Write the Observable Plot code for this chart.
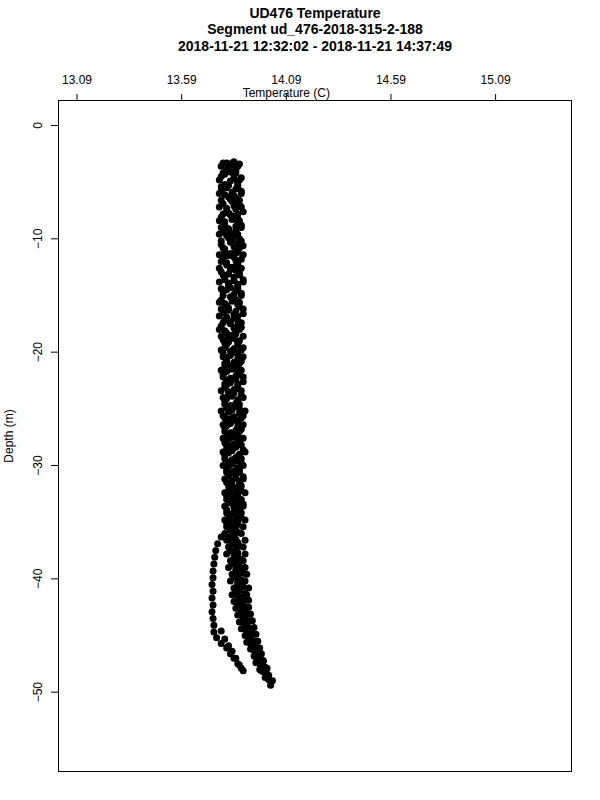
<!DOCTYPE html>
<html><head><meta charset="utf-8">
<script src="https://cdn.jsdelivr.net/npm/d3@7"></script>
<script src="https://cdn.jsdelivr.net/npm/@observablehq/plot@0.6"></script>
<style>
body{margin:0;background:#fff;}
#chart svg{display:block;}
</style></head>
<body><div id="chart"></div>
<script>
const titleLines = ["UD476 Temperature", "Segment ud_476-2018-315-2-188", "2018-11-21 12:32:02 - 2018-11-21 14:37:49"];
const xTicks = [13.09, 13.59, 14.09, 14.59, 15.09];
const yTicks = [0, -10, -20, -30, -40, -50];
const xLabel = "Temperature (C)";
const xLabelAt = 14.09;
const yLabel = "Depth (m)";

// [depth (m), temperature (C)] per cast
const castA = [[-3.3,13.788],[-3.9,13.805],[-4.5,13.779],[-5.2,13.796],[-5.8,13.779],[-6.3,13.814],[-6.9,13.788],[-7.6,13.805],[-8.1,13.779],[-8.8,13.796],[-9.4,13.788],[-9.9,13.814],[-10.5,13.779],[-11.2,13.796],[-11.7,13.788],[-12.3,13.805],[-12.9,13.779],[-13.6,13.796],[-14.1,13.814],[-14.7,13.788],[-15.4,13.779],[-15.9,13.805],[-16.5,13.788],[-17.2,13.796],[-17.7,13.779],[-18.3,13.805],[-18.9,13.788],[-19.6,13.796],[-20.1,13.788],[-20.7,13.805],[-21.3,13.796],[-22.0,13.788],[-22.5,13.805],[-23.1,13.796],[-23.8,13.814],[-24.3,13.796],[-24.9,13.805],[-25.6,13.788],[-26.1,13.805],[-26.7,13.796],[-27.3,13.814],[-28.0,13.796],[-28.5,13.805],[-29.1,13.796],[-29.7,13.814],[-30.4,13.805],[-30.9,13.814],[-31.5,13.805],[-32.2,13.814],[-32.7,13.805],[-33.3,13.823],[-33.9,13.805],[-34.6,13.814],[-35.1,13.805],[-35.7,13.823],[-36.3,13.814],[-36.9,13.831],[-37.5,13.823],[-38.2,13.840],[-38.7,13.831],[-39.3,13.849],[-39.9,13.840],[-40.5,13.858],[-41.1,13.849],[-41.8,13.866],[-42.3,13.858],[-42.9,13.875],[-43.5,13.884],[-44.1,13.893],[-44.7,13.901],[-45.4,13.919],[-45.9,13.928],[-46.5,13.945],[-47.1,13.954],[-47.7,13.971],[-48.2,13.980]];
const castB = [[-49.4,14.015],[-48.9,14.006],[-48.4,13.998],[-47.8,13.989],[-47.2,13.980],[-46.6,13.971],[-46.1,13.963],[-45.5,13.954],[-44.9,13.945],[-44.3,13.936],[-43.7,13.928],[-43.1,13.919],[-42.5,13.910],[-41.9,13.910],[-41.4,13.901],[-40.8,13.910],[-40.2,13.893],[-39.6,13.901],[-39.0,13.893],[-38.4,13.884],[-37.8,13.893],[-37.2,13.884],[-36.6,13.893],[-36.0,13.875],[-35.4,13.884],[-34.8,13.893],[-34.2,13.875],[-33.6,13.884],[-33.0,13.875],[-32.4,13.893],[-31.8,13.875],[-31.2,13.884],[-30.6,13.866],[-30.0,13.884],[-29.4,13.875],[-28.8,13.893],[-28.2,13.875],[-27.6,13.884],[-27.0,13.866],[-26.4,13.884],[-25.8,13.875],[-25.2,13.893],[-24.6,13.866],[-24.0,13.884],[-23.4,13.875],[-22.8,13.858],[-22.2,13.884],[-21.6,13.875],[-21.0,13.866],[-20.4,13.884],[-19.8,13.875],[-19.2,13.858],[-18.6,13.884],[-18.0,13.866],[-17.4,13.875],[-16.8,13.858],[-16.2,13.884],[-15.6,13.866],[-15.0,13.875],[-14.4,13.858],[-13.8,13.884],[-13.2,13.866],[-12.6,13.875],[-12.0,13.858],[-11.4,13.884],[-10.8,13.866],[-10.2,13.875],[-9.6,13.858],[-9.0,13.875],[-8.4,13.866],[-7.8,13.858],[-7.2,13.875],[-6.6,13.866],[-6.0,13.875],[-5.4,13.858],[-4.8,13.866],[-4.2,13.849],[-3.6,13.858],[-3.2,13.840]];
const castC = [[-3.5,13.831],[-4.1,13.823],[-4.7,13.840],[-5.3,13.814],[-5.9,13.831],[-6.5,13.823],[-7.1,13.840],[-7.7,13.814],[-8.3,13.831],[-8.9,13.849],[-9.5,13.823],[-10.1,13.831],[-10.7,13.840],[-11.3,13.823],[-11.9,13.849],[-12.5,13.831],[-13.1,13.814],[-13.7,13.840],[-14.3,13.823],[-14.9,13.840],[-15.5,13.831],[-16.1,13.814],[-16.7,13.840],[-17.3,13.823],[-17.9,13.840],[-18.5,13.831],[-19.1,13.814],[-19.7,13.840],[-20.3,13.823],[-20.9,13.840],[-21.5,13.831],[-22.1,13.849],[-22.7,13.823],[-23.3,13.840],[-23.9,13.831],[-24.5,13.849],[-25.1,13.831],[-25.7,13.840],[-26.3,13.823],[-26.9,13.849],[-27.5,13.831],[-28.1,13.840],[-28.7,13.831],[-29.3,13.849],[-29.9,13.831],[-30.5,13.840],[-31.1,13.849],[-31.7,13.831],[-32.3,13.849],[-32.9,13.840],[-33.5,13.858],[-34.1,13.840],[-34.7,13.849],[-35.3,13.840],[-35.9,13.858],[-36.5,13.849],[-37.1,13.866],[-37.7,13.858],[-38.3,13.875],[-38.9,13.866],[-39.5,13.884],[-40.1,13.875],[-40.7,13.884],[-41.3,13.893],[-41.9,13.884],[-42.5,13.901],[-43.1,13.910],[-43.7,13.919],[-44.3,13.910],[-44.9,13.928],[-45.5,13.936],[-46.1,13.954],[-46.7,13.963],[-47.3,13.980],[-47.9,13.998],[-48.5,14.006],[-49.0,14.024]];
const castD = [[-48.0,13.963],[-47.4,13.945],[-46.8,13.936],[-46.2,13.919],[-45.6,13.901],[-45.0,13.893],[-44.4,13.875],[-43.8,13.866],[-43.2,13.858],[-42.6,13.849],[-42.0,13.840],[-41.4,13.831],[-40.8,13.840],[-40.2,13.823],[-39.6,13.831],[-39.0,13.814],[-38.4,13.823],[-37.8,13.805],[-37.2,13.814],[-36.6,13.805],[-36.0,13.796],[-35.4,13.805],[-34.8,13.796],[-34.2,13.805],[-33.6,13.796],[-33.0,13.805],[-32.4,13.796],[-31.8,13.814],[-31.2,13.796],[-30.6,13.805],[-30.0,13.788],[-29.4,13.796],[-28.8,13.788],[-28.2,13.805],[-27.6,13.788],[-27.0,13.796],[-26.4,13.788],[-25.8,13.796],[-25.2,13.779],[-24.6,13.796],[-24.0,13.788],[-23.4,13.779],[-22.8,13.796],[-22.2,13.788],[-21.6,13.779],[-21.0,13.796],[-20.4,13.788],[-19.8,13.779],[-19.2,13.796],[-18.6,13.779],[-18.0,13.770],[-17.4,13.788],[-16.8,13.770],[-16.2,13.779],[-15.6,13.770],[-15.0,13.788],[-14.4,13.779],[-13.8,13.770],[-13.2,13.788],[-12.6,13.770],[-12.0,13.779],[-11.4,13.770],[-10.8,13.788],[-10.2,13.779],[-9.6,13.770],[-9.0,13.779],[-8.4,13.770],[-7.8,13.788],[-7.2,13.770],[-6.6,13.779],[-6.0,13.770],[-5.4,13.779],[-4.8,13.770],[-4.2,13.788],[-3.6,13.779],[-3.3,13.805]];
const castE = [[-3.4,13.866],[-4.0,13.849],[-4.6,13.875],[-5.2,13.858],[-5.8,13.875],[-6.4,13.849],[-7.0,13.866],[-7.6,13.884],[-8.2,13.858],[-8.8,13.875],[-9.4,13.849],[-10.0,13.866],[-10.6,13.884],[-11.2,13.858],[-11.8,13.875],[-12.4,13.849],[-13.0,13.866],[-13.6,13.884],[-14.2,13.858],[-14.8,13.875],[-15.4,13.849],[-16.0,13.866],[-16.6,13.884],[-17.2,13.858],[-17.8,13.875],[-18.4,13.849],[-19.0,13.866],[-19.6,13.884],[-20.2,13.858],[-20.8,13.875],[-21.4,13.858],[-22.0,13.866],[-22.6,13.884],[-23.2,13.858],[-23.8,13.875],[-24.4,13.858],[-25.0,13.866],[-25.6,13.884],[-26.2,13.858],[-26.8,13.875],[-27.4,13.858],[-28.0,13.866],[-28.6,13.884],[-29.2,13.858],[-29.8,13.875],[-30.4,13.866],[-31.0,13.884],[-31.6,13.866],[-32.2,13.875],[-32.8,13.858],[-33.4,13.884],[-34.0,13.866],[-34.6,13.875],[-35.2,13.858],[-35.8,13.831],[-36.3,13.779],[-36.9,13.762],[-37.5,13.753],[-38.1,13.748],[-38.7,13.744],[-39.3,13.740],[-39.9,13.740],[-40.5,13.735],[-41.1,13.740],[-41.7,13.735],[-42.3,13.740],[-42.9,13.735],[-43.5,13.740],[-44.1,13.744],[-44.7,13.744],[-45.2,13.757],[-45.7,13.779],[-46.1,13.805],[-46.6,13.823],[-47.0,13.840],[-47.5,13.858],[-47.9,13.875]];
const castF = [[-44.6,13.779],[-45.3,13.796],[-45.9,13.814],[-46.4,13.831],[-47.0,13.849],[-47.6,13.866],[-48.1,13.884]];
const castG = [[-3.6,13.814],[-4.3,13.796],[-4.9,13.823],[-5.5,13.805],[-6.1,13.796],[-6.7,13.831],[-7.3,13.805],[-7.9,13.823],[-8.5,13.796],[-9.1,13.814],[-9.7,13.805],[-10.3,13.823],[-10.9,13.796],[-11.5,13.814],[-12.1,13.805],[-12.7,13.823],[-13.3,13.796],[-13.9,13.814],[-14.5,13.805],[-15.1,13.823],[-15.7,13.796],[-16.3,13.814],[-16.9,13.805],[-17.5,13.823],[-18.1,13.796],[-18.7,13.814],[-19.3,13.805],[-19.9,13.823],[-20.5,13.805],[-21.1,13.814],[-21.7,13.805],[-22.3,13.823],[-22.9,13.805],[-23.5,13.814],[-24.1,13.805],[-24.7,13.823],[-25.3,13.814],[-25.9,13.823],[-26.5,13.805],[-27.1,13.823],[-27.7,13.814],[-28.3,13.823],[-28.9,13.814],[-29.5,13.831],[-30.1,13.814],[-30.7,13.823],[-31.3,13.831],[-31.9,13.823],[-32.5,13.831],[-33.1,13.823],[-33.7,13.840],[-34.3,13.823],[-34.9,13.831],[-35.5,13.823],[-36.1,13.840],[-36.7,13.831],[-37.3,13.849],[-37.9,13.840],[-38.5,13.858],[-39.1,13.849],[-39.7,13.858],[-40.3,13.858],[-40.9,13.866],[-41.5,13.858],[-42.1,13.875],[-42.7,13.875],[-43.3,13.884],[-43.9,13.893],[-44.5,13.901],[-45.1,13.910],[-45.7,13.919],[-46.3,13.936],[-46.9,13.945],[-47.5,13.963],[-48.1,13.971],[-48.7,13.989]];
const castH = [[-48.6,13.998],[-48.0,13.989],[-47.4,13.971],[-46.9,13.963],[-46.3,13.945],[-45.7,13.936],[-45.1,13.919],[-44.6,13.919],[-44.0,13.901],[-43.4,13.893],[-42.8,13.893],[-42.2,13.884],[-41.6,13.875],[-41.0,13.866],[-40.4,13.875],[-39.8,13.858],[-39.2,13.866],[-38.6,13.849],[-38.0,13.858],[-37.4,13.849],[-36.8,13.858],[-36.2,13.840],[-35.6,13.849],[-35.0,13.858],[-34.4,13.849],[-33.8,13.866],[-33.2,13.849],[-32.6,13.858],[-32.0,13.849],[-31.4,13.866],[-30.8,13.849],[-30.2,13.858],[-29.6,13.849],[-29.0,13.866],[-28.4,13.849],[-27.8,13.858],[-27.2,13.840],[-26.6,13.858],[-26.0,13.849],[-25.4,13.866],[-24.8,13.849],[-24.2,13.858],[-23.6,13.840],[-23.0,13.858],[-22.4,13.849],[-21.8,13.858],[-21.2,13.840],[-20.6,13.858],[-20.0,13.849],[-19.4,13.858],[-18.8,13.840],[-18.2,13.849],[-17.6,13.858],[-17.0,13.840],[-16.4,13.849],[-15.8,13.858],[-15.2,13.840],[-14.6,13.849],[-14.0,13.858],[-13.4,13.840],[-12.8,13.849],[-12.2,13.858],[-11.6,13.840],[-11.0,13.849],[-10.4,13.858],[-9.8,13.840],[-9.2,13.849],[-8.6,13.858],[-8.0,13.840],[-7.4,13.849],[-6.8,13.858],[-6.2,13.840],[-5.6,13.849],[-5.0,13.858],[-4.4,13.840],[-3.8,13.849],[-3.3,13.831]];

const points = [castA, castB, castC, castD, castE, castF, castG, castH]
  .flatMap(c => c.map(([depth, temp]) => ({depth, temp})));

const font = '"Liberation Sans", Arial, Helvetica, sans-serif';

const chart = Plot.plot({
  width: 600,
  height: 800,
  marginLeft: 58,
  marginRight: 29,
  marginTop: 100,
  marginBottom: 29,
  style: {fontFamily: font, fontSize: "12px", color: "black", background: "white", overflow: "visible"},
  x: {domain: [13.0016, 15.4526]},
  y: {domain: [-57.0, 2.206]},
  marks: [
    Plot.dot(points, {x: "temp", y: "depth", r: 3.5, fill: "black"}),
    Plot.frame({stroke: "black", strokeWidth: 1}),
    Plot.axisX({anchor: "top", ticks: xTicks, tickFormat: d => d.toFixed(2), tickSize: 7, tickPadding: 10, fontSize: 12, label: null}),
    Plot.axisY({anchor: "left", ticks: yTicks, tickSize: 7, tickRotate: -90, tickPadding: 10, fontSize: 12, label: null}),
    Plot.text([{t: xLabelAt, s: xLabel}], {x: "t", text: "s", frameAnchor: "top", dy: -3.5, lineAnchor: "bottom", fontSize: 12}),
    Plot.text([yLabel], {frameAnchor: "left", dx: -46, rotate: -90, textAnchor: "middle", lineAnchor: "bottom", fontSize: 12}),
    Plot.text([titleLines.join("\n")], {frameAnchor: "top", dy: -94.5, lineAnchor: "top", lineHeight: 1.18, fontSize: 14, fontWeight: "bold", textAnchor: "middle"})
  ]
});
document.getElementById("chart").appendChild(chart);
</script>
</body></html>
